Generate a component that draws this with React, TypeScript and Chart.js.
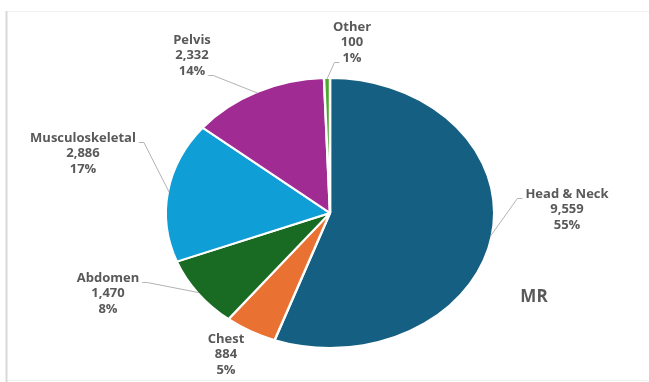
import React, { useEffect, useRef } from "react";
import { Chart, registerables } from "chart.js";

Chart.register(...registerables);

// ---- data ----
const categories = ["Head & Neck", "Chest", "Abdomen", "Musculoskeletal", "Pelvis", "Other"];
const counts = [9559, 884, 1470, 2886, 2332, 100];
const percentLabels = ["55%", "5%", "8%", "17%", "14%", "1%"];
const chartTitle = "MR";

// ---- styles / layout ----
const sliceColors = ["#156082", "#E97132", "#196B24", "#0F9ED5", "#A02B93", "#4EA72E"];
const FONT = '"Open Sans", "Liberation Sans", sans-serif';
const TEXT_COLOR = "#595959";
const LEADER_COLOR = "#b3b3b3";
const W = 649;
const H = 382;
const RADIUS = 135; // drawn radius (vertical), border eats 1px
const STRETCH_X = 163 / 134; // reference pie is an ellipse
const LINE_STEP = 15.7;
// label first-line centre, relative to the pie centre
const labelOffsets: [number, number][] = [
  [237, -19],
  [-104, 126],
  [-222, 65],
  [-247, -75],
  [-138, -173],
  [22, -186],
];
// leader line: side of the text it leaves from and which line it aligns with
const leaders: ({ side: "left" | "right"; line: number } | null)[] = [
  { side: "left", line: 0 },
  null,
  { side: "right", line: 0 },
  { side: "right", line: 0 },
  { side: "right", line: 2 },
  { side: "left", line: 2 },
];

const framePlugin = {
  id: "frame",
  beforeDraw(chart: any) {
    const ctx = chart.ctx as CanvasRenderingContext2D;
    ctx.save();
    ctx.fillStyle = "#ffffff";
    ctx.fillRect(0, 0, W, H);
    ctx.strokeStyle = "#f0f0f0";
    ctx.lineWidth = 1;
    ctx.beginPath();
    ctx.moveTo(7, 11.5);
    ctx.lineTo(W, 11.5);
    ctx.moveTo(7, H - 1.5);
    ctx.lineTo(W, H - 1.5);
    ctx.stroke();
    ctx.strokeStyle = "#d9d9d9";
    ctx.lineWidth = 2;
    ctx.beginPath();
    ctx.moveTo(6.5, 11);
    ctx.lineTo(6.5, H);
    ctx.stroke();
    ctx.restore();
  },
};

const ellipsePlugin = {
  id: "ellipse",
  beforeDatasetsDraw(chart: any) {
    const arc = chart.getDatasetMeta(0).data[0];
    const ctx = chart.ctx as CanvasRenderingContext2D;
    ctx.save();
    ctx.translate(arc.x, arc.y);
    ctx.scale(STRETCH_X, 1);
    ctx.translate(-arc.x, -arc.y);
  },
  afterDatasetsDraw(chart: any) {
    chart.ctx.restore();
  },
};

const labelPlugin = {
  id: "labels",
  afterDraw(chart: any) {
    const ctx = chart.ctx as CanvasRenderingContext2D;
    const meta = chart.getDatasetMeta(0);
    const first = meta.data[0];
    const cx = first.x;
    const cy = first.y;
    ctx.save();
    ctx.font = `bold 13px ${FONT}`;
    ctx.fillStyle = TEXT_COLOR;
    ctx.textAlign = "center";
    ctx.textBaseline = "middle";
    meta.data.forEach((arc: any, i: number) => {
      const [dx, dy] = labelOffsets[i];
      const lx = cx + dx;
      const ly = cy + dy;
      const lines = [categories[i], counts[i].toLocaleString("en-US"), percentLabels[i]];
      lines.forEach((t, k) => ctx.fillText(t, lx, ly + k * LINE_STEP));
      const lead = leaders[i];
      if (lead) {
        const mid = (arc.startAngle + arc.endAngle) / 2;
        const r = arc.outerRadius - 1;
        const ex = cx + Math.cos(mid) * r * STRETCH_X;
        const ey = cy + Math.sin(mid) * r;
        const tw = ctx.measureText(lines[lead.line]).width;
        const sgn = lead.side === "right" ? 1 : -1;
        const sx = lx + sgn * (tw / 2 + 3);
        const sy = Math.round(ly + lead.line * LINE_STEP + 4) + 0.5;
        ctx.save();
        ctx.strokeStyle = LEADER_COLOR;
        ctx.lineWidth = 1;
        ctx.beginPath();
        ctx.moveTo(sx, sy);
        ctx.lineTo(sx + sgn * 5, sy);
        ctx.lineTo(ex, ey);
        ctx.stroke();
        ctx.restore();
      }
    });
    ctx.font = `bold 17px ${FONT}`;
    ctx.fillText(chartTitle, cx + 204, cy + 84);
    ctx.restore();
  },
};

export default function App() {
  const ref = useRef<HTMLCanvasElement | null>(null);
  useEffect(() => {
    if (!ref.current) return;
    const chart = new Chart(ref.current, {
      type: "pie",
      data: {
        labels: categories,
        datasets: [
          {
            data: counts,
            backgroundColor: sliceColors,
            borderColor: "#ffffff",
            borderWidth: 2,
            radius: RADIUS,
            clip: false,
          } as any,
        ],
      },
      options: {
        responsive: false,
        animation: false,
        layout: { padding: { left: 11, right: 0, top: 44, bottom: 0 } },
        plugins: {
          legend: { display: false },
          tooltip: { enabled: false },
          title: { display: false },
        },
        events: [],
      },
      plugins: [framePlugin, ellipsePlugin, labelPlugin],
    });
    return () => chart.destroy();
  }, []);
  return (
    <div style={{ position: "fixed", left: 0, top: 0, width: W, height: H, background: "#fff" }}>
      <canvas ref={ref} width={W} height={H} style={{ display: "block", width: W, height: H }} />
    </div>
  );
}
